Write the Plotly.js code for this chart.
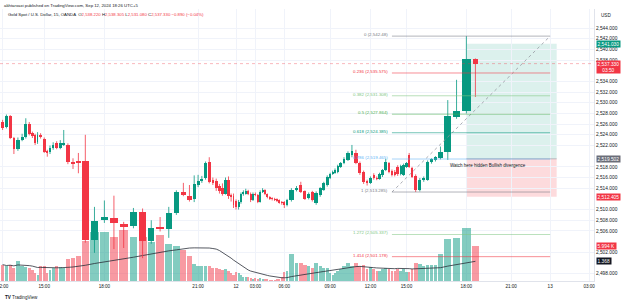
<!DOCTYPE html>
<html><head><meta charset="utf-8">
<script src="https://cdn.plot.ly/plotly-3.0.1.min.js"></script>
<style>html,body{margin:0;padding:0;background:#fff;overflow:hidden}#chart{width:625px;height:303px}</style>
</head><body><div id="chart"></div>
<script>
// ---------- DATA ----------
const times = [
"09-11 12:00","09-11 12:15","09-11 12:30","09-11 12:45","09-11 13:00","09-11 13:15","09-11 13:30","09-11 13:45",
"09-11 14:00","09-11 14:15","09-11 14:30","09-11 14:45","09-11 15:00","09-11 15:15","09-11 15:30","09-11 15:45",
"09-11 16:00","09-11 16:15","09-11 16:30","09-11 16:45","09-11 17:00","09-11 17:15","09-11 17:30","09-11 17:45",
"09-11 18:00","09-11 18:15","09-11 18:30","09-11 18:45","09-11 19:00","09-11 19:15","09-11 19:30","09-11 19:45",
"09-11 20:00","09-11 20:15","09-11 20:30","09-11 20:45","09-11 21:00","09-11 21:15","09-11 21:30","09-11 21:45",
"09-11 22:00","09-11 22:15","09-11 22:30","09-11 22:45","09-11 23:00","09-11 23:15","09-11 23:30","09-11 23:45",
"09-12 00:00","09-12 00:15","09-12 00:30","09-12 00:45","09-12 01:00","09-12 01:15","09-12 01:30","09-12 01:45",
"09-12 03:00","09-12 03:15","09-12 03:30","09-12 03:45","09-12 04:00","09-12 04:15","09-12 04:30","09-12 04:45",
"09-12 05:00","09-12 05:15","09-12 05:30","09-12 05:45","09-12 06:00","09-12 06:15","09-12 06:30","09-12 06:45",
"09-12 07:00","09-12 07:15","09-12 07:30","09-12 07:45","09-12 08:00","09-12 08:15","09-12 08:30","09-12 08:45",
"09-12 09:00","09-12 09:15","09-12 09:30","09-12 09:45","09-12 10:00","09-12 10:15","09-12 10:30","09-12 10:45",
"09-12 11:00","09-12 11:15","09-12 11:30","09-12 11:45","09-12 12:00","09-12 12:15","09-12 12:30","09-12 12:45",
"09-12 13:00","09-12 13:15","09-12 13:30","09-12 13:45","09-12 14:00","09-12 14:15","09-12 14:30","09-12 14:45",
"09-12 15:00","09-12 15:15","09-12 15:30","09-12 15:45","09-12 16:00","09-12 16:15","09-12 16:30","09-12 16:45",
"09-12 17:00","09-12 17:15","09-12 17:30","09-12 17:45","09-12 18:00","09-12 18:15"];
const open = [
2526.4,2525.5,2527.5,2523.4,2521.4,2523.1,2523.6,2526.0,2524.3,2524.0,2522.6,2524.0,2523.2,2521.0,2520.8,2521.5,
2522.5,2521.6,2522.1,2522.1,2518.9,2519.1,2519.1,2504.3,2508.0,2508.4,2507.3,2506.9,2509.5,2504.1,2506.7,2506.3,
2509.4,2513.3,2512.6,2512.0,2514.6,2515.4,2515.9,2518.9,2515.5,2515.3,2514.4,2514.0,2513.0,2515.6,2512.7,2512.5,
2511.6,2510.5,2511.4,2512.9,2513.0,2513.4,2513.0,2511.8,2513.0,2512.7,2511.5,2513.3,2513.6,2512.9,2512.3,2512.1,
2512.0,2511.9,2511.7,2511.4,2511.4,2510.9,2511.7,2513.6,2514.6,2513.4,2512.1,2513.3,2511.3,2512.7,2513.7,2514.6,
2515.9,2516.7,2516.9,2517.0,2518.0,2518.7,2519.3,2520.2,2520.6,2518.7,2517.0,2515.3,2515.0,2516.5,2516.0,2515.8,
2516.4,2517.4,2518.7,2517.2,2517.0,2518.0,2516.6,2516.5,2518.0,2520.2,2517.8,2516.3,2513.6,2515.5,2515.6,2518.9,
2519.3,2519.7,2520.8,2527.3,2528.5,2538.22];
const high = [
2526.8,2527.8,2527.7,2523.6,2523.5,2524.2,2527.1,2526.4,2524.6,2524.2,2524.5,2524.3,2523.5,2521.2,2522.0,2522.6,
2522.8,2523.0,2524.9,2522.4,2519.6,2520.6,2524.0,2510.5,2511.7,2512.6,2507.7,2510.3,2510.2,2508.0,2508.6,2510.5,
2513.6,2515.0,2514.6,2516.4,2516.5,2516.3,2519.0,2519.8,2516.0,2515.8,2514.8,2514.9,2516.0,2516.2,2513.0,2513.0,
2511.9,2511.8,2513.2,2513.6,2513.9,2513.7,2513.2,2513.2,2513.2,2512.9,2513.6,2514.0,2513.8,2513.0,2512.5,2512.3,
2512.2,2512.1,2511.9,2511.6,2511.6,2512.0,2514.0,2514.4,2515.2,2513.6,2513.2,2513.5,2513.4,2514.2,2515.2,2516.4,
2516.9,2517.3,2517.7,2518.4,2518.9,2519.8,2520.9,2522.1,2521.2,2519.0,2517.3,2515.6,2516.2,2516.8,2516.2,2516.9,
2517.6,2519.5,2518.9,2517.5,2517.4,2518.3,2518.4,2518.6,2518.9,2520.6,2518.0,2516.6,2515.9,2516.2,2519.2,2519.6,
2520.0,2521.8,2530.5,2534.3,2542.48,2538.305];
const low = [
2524.9,2525.2,2523.2,2520.4,2521.0,2522.8,2523.3,2523.9,2523.4,2522.1,2522.3,2523.3,2520.6,2519.9,2520.4,2521.2,
2521.3,2521.3,2521.9,2518.5,2517.6,2516.8,2503.8,2501.9,2507.5,2502.6,2502.8,2506.5,2500.9,2503.6,2505.9,2504.7,
2509.0,2512.5,2511.5,2511.4,2514.2,2515.0,2515.6,2514.9,2514.6,2513.5,2513.0,2512.6,2512.8,2512.0,2511.5,2510.3,
2510.0,2510.0,2511.1,2512.6,2512.8,2512.7,2511.4,2511.6,2512.5,2511.2,2511.3,2513.1,2512.7,2512.1,2511.8,2511.7,
2511.6,2511.4,2511.1,2510.9,2510.3,2510.6,2511.5,2513.4,2513.1,2511.8,2511.9,2511.5,2510.9,2512.4,2513.5,2514.3,
2515.7,2516.5,2516.7,2516.8,2517.8,2518.5,2519.1,2519.8,2518.5,2516.5,2514.8,2514.5,2514.8,2515.6,2515.5,2515.6,
2516.1,2517.2,2516.8,2516.2,2516.2,2516.3,2516.4,2516.3,2517.8,2517.8,2515.9,2513.285,2513.4,2515.2,2515.4,2518.6,
2519.0,2519.4,2519.3,2527.0,2528.0,2531.08];
const close = [
2525.3,2527.5,2523.4,2521.3,2523.0,2523.6,2526.0,2524.2,2523.8,2522.5,2524.0,2523.6,2520.8,2520.6,2521.5,2522.1,
2521.5,2522.5,2522.5,2518.9,2518.6,2518.8,2504.3,2507.9,2508.6,2507.5,2506.7,2509.5,2504.1,2506.5,2506.3,2509.3,
2513.3,2512.8,2511.8,2514.8,2515.4,2515.7,2518.7,2515.2,2515.0,2514.0,2513.4,2513.0,2515.6,2512.6,2512.3,2510.9,
2510.5,2511.4,2512.9,2513.2,2513.5,2513.0,2511.7,2513.0,2512.7,2511.4,2513.3,2513.7,2512.9,2512.3,2512.0,2511.9,
2511.8,2511.6,2511.3,2511.2,2510.8,2511.7,2513.6,2514.0,2513.3,2512.0,2512.9,2511.8,2513.1,2514.0,2515.0,2516.1,
2516.7,2517.0,2517.4,2518.2,2518.7,2519.5,2520.6,2520.9,2518.7,2516.8,2515.2,2514.9,2515.9,2515.9,2515.8,2516.6,
2517.4,2518.9,2517.0,2516.5,2516.5,2516.6,2518.1,2518.4,2518.7,2518.0,2516.1,2513.6,2515.5,2515.9,2518.9,2519.4,
2519.8,2520.8,2527.5,2528.5,2538.2,2537.33];
const volume = [ // thousands
2.8,2.5,2.8,2.25,3.4,2.65,2.4,2.25,1.85,1.4,1.1,2.5,2.5,1.4,1.85,2.25,
2.5,2.4,2.25,3.7,4.0,4.2,6.9,8.3,8.3,7.6,8.7,7.6,7.6,6.7,7.9,6.4,
5.9,5.3,4.2,2.85,2.6,2.6,2.5,2.6,2.3,2.2,2.0,1.8,2.1,1.7,1.3,1.0,
1.6,1.3,1.0,0.75,0.75,0.6,0.5,0.4,0.5,0.4,0.5,0.3,0.3,0.3,0.2,0.2,
0.2,0.3,0.4,0.6,1.6,1.7,4.6,3.1,3.1,2.7,2.6,2.3,3.1,2.6,2.3,2.3,
1.4,1.1,1.4,1.7,2.0,2.5,3.1,2.5,3.1,2.5,2.7,2.0,2.4,2.0,1.7,1.7,
2.0,2.3,2.0,1.7,1.7,2.0,1.7,2.0,1.6,1.6,2.0,3.0,2.9,2.6,2.8,2.7,
2.8,4.7,7.1,7.4,9.0,5.994];

const tickTimes  = ["09-11 12:00","09-11 15:00","09-11 18:00","09-11 21:00","09-12 00:00","09-12 03:00","09-12 06:00",
                    "09-12 09:00","09-12 12:00","09-12 15:00","09-12 18:00","09-12 21:00","09-13 00:00","09-13 03:00"];
const tickLabels = ["12:00","15:00","18:00","21:00","12","03:00","06:00","09:00","12:00","15:00","18:00","21:00","13","03:00"];
// price ticks whose labels are not hidden by the axis price tags
const priceTicks = [2498,2502,2506,2508,2510,2514,2516,2518,2522,2524,2526,2528,2530,2532,2534,2538,2540,2542,2544];

const fibRatios = [0, 0.236, 0.382, 0.5, 0.618, 0.786, 1, 1.272, 1.414];
const fibPrices = [2542.48, 2535.575, 2531.308, 2527.864, 2524.385, 2519.465, 2513.285, 2505.337, 2501.178];
const fibLabels = ["0 (2,542.48)","0.236 (2,535.575)","0.382 (2,531.308)","0.5 (2,527.864)","0.618 (2,524.385)",
                   "0.786 (2,519.465)","1 (2,513.285)","1.272 (2,505.337)","1.414 (2,501.178)"];
const fibStartTime = "09-12 13:45", fibEndTime = "09-13 00:00";
const longStartTime = "09-12 18:00", longEndTime = "09-13 00:30";
const longTarget = 2541.030, longEntry = 2519.502, longStop = 2512.405;
const noteTime = "09-12 17:30", notePrice = 2518.2, noteText = "Watch here hidden Bullish divergence";
const lastPrice = 2537.330, lastVolume = 5.994, maLabel = "1.368";

// ---------- STYLE ----------
const UP = '#089981', DN = '#f23645';
const FONT = 'Liberation Sans, Arial, sans-serif';
const fibColors = ['#787b86','#f23645','#81c784','#4caf50','#089981','#64b5f6','#787b86','#81c784','#f23645'];
const futureStep = 3.25, plotW = 594;

// ---------- geometry from data (volume candles: width grows with volume) ----------
const slots = volume.map(v => Math.max(2.4, 0.95 + 1.08*v));
const centers = []; let acc = 0;
slots.forEach(w => { centers.push(acc + w/2); acc += w; });
function minutesOf(t){ const [d,hm]=t.split(' '); const day=+d.split('-')[1]; const [h,m]=hm.split(':').map(Number); return day*1440+h*60+m; }
function xOf(t){
  const i = times.indexOf(t); if (i >= 0) return centers[i];
  const L = times.length-1; return centers[L] + (minutesOf(t)-minutesOf(times[L]))/15*futureStep;
}
const x0 = centers[0] - 2.6, x1 = x0 + plotW;
const isUp = close.map((c,i)=> c >= open[i]);

const maLen = 20;
const volMA = volume.map((v,i)=>{ const w = volume.slice(Math.max(0,i-maLen+1), i+1); return w.reduce((a,b)=>a+b,0)/w.length; });

function wick(up){ const xs=[], ys=[]; centers.forEach((c,i)=>{ if(isUp[i]===up){ xs.push(c,c,null); ys.push(low[i],high[i],null);} }); return {xs,ys}; }
const wu = wick(true), wd = wick(false);

const traces = [
  {type:'bar', x:centers, y:volume, width:slots.map(w=>w*0.86), yaxis:'y', xaxis:'x',
   marker:{color:isUp.map(u=>u?'rgba(8,153,129,0.5)':'rgba(242,54,69,0.5)'), line:{width:0}}, hoverinfo:'skip'},
  {type:'scatter', mode:'lines', x:centers, y:volMA, yaxis:'y', line:{color:'#2a2e39', width:0.8}, hoverinfo:'skip'},
  {type:'scatter', mode:'lines', x:wu.xs, y:wu.ys, yaxis:'y2', line:{color:UP, width:0.8}, hoverinfo:'skip', connectgaps:false},
  {type:'scatter', mode:'lines', x:wd.xs, y:wd.ys, yaxis:'y2', line:{color:DN, width:0.8}, hoverinfo:'skip', connectgaps:false},
  {type:'bar', x:centers, base:open.map((o,i)=>Math.min(o,close[i])), y:open.map((o,i)=>Math.max(Math.abs(close[i]-o),0.18)),
   width:slots.map(w=>w*0.78), yaxis:'y2', marker:{color:isUp.map(u=>u?UP:DN), line:{width:0}}, hoverinfo:'skip'}
];

const fx0 = xOf(fibStartTime), fx1 = xOf(fibEndTime);
const lx0 = xOf(longStartTime), lx1 = xOf(longEndTime);
const shapes = [
  {type:'rect', layer:'below', xref:'x', yref:'y2', x0:lx0, x1:lx1, y0:longEntry, y1:longTarget, fillcolor:'rgba(8,153,129,0.14)', line:{width:0}},
  {type:'rect', layer:'below', xref:'x', yref:'y2', x0:lx0, x1:lx1, y0:longStop, y1:longEntry, fillcolor:'rgba(242,54,69,0.18)', line:{width:0}},
  {type:'line', xref:'paper', yref:'y2', x0:0, x1:1, y0:lastPrice, y1:lastPrice, line:{color:'rgba(242,54,69,0.5)', width:0.7, dash:'dot'}},
  {type:'line', xref:'x', yref:'y2', x0:fx0, x1:fx1, y0:fibPrices[6], y1:fibPrices[0], line:{color:'#9598a1', width:0.8, dash:'dot'}},
  {type:'line', xref:'x', yref:'y2', x0:lx0, x1:lx1, y0:longEntry, y1:longEntry, line:{color:'#9598a1', width:0.6}}
];
fibPrices.forEach((p,k)=> shapes.push({type:'line', xref:'x', yref:'y2', x0:fx0, x1:fx1, y0:p, y1:p, line:{color:fibColors[k], width:0.7}, opacity:0.8}));

const ann = [];
fibLabels.forEach((t,k)=> ann.push({xref:'x', yref:'y2', x:fx0-2, y:fibPrices[k], xanchor:'right', yanchor:'middle', yshift:1.5,
  text:t, showarrow:false, font:{size:4.4, color:fibColors[k], family:FONT}}));
ann.push({xref:'x', yref:'y2', x:xOf(noteTime), y:notePrice, xanchor:'left', yanchor:'middle', text:noteText, showarrow:false,
  font:{size:4.5, color:'#131722', family:FONT}});
function axLabel(y, text, bg, yref, extra){ return Object.assign({xref:'paper', x:1, xanchor:'left', xshift:1.5, yref:yref||'y2', y:y, yanchor:'middle',
  text:text, showarrow:false, bgcolor:bg, borderpad:0.6, font:{size:4.8, color:'#ffffff', family:FONT}}, extra||{}); }
ann.push(axLabel(longTarget, '2,541.030', UP));
ann.push(axLabel(lastPrice, '2,537.330<br>03:50', DN, 'y2', {yanchor:'top', yshift:3.6}));
ann.push(axLabel(longEntry, '2,519.502', '#6a6d78'));
ann.push(axLabel(longStop, '2,512.405', DN));
ann.push(axLabel(lastVolume, '5.994 K', DN, 'y'));
ann.push(axLabel(volMA[volMA.length-1], maLabel, '#131722', 'y'));
ann.push({xref:'paper', yref:'paper', x:1, xshift:5, xanchor:'left', y:(281-15)/272, yanchor:'middle', text:'USD', showarrow:false,
  font:{size:4.6, color:'#131722', family:FONT}});
ann.push({xref:'paper', yref:'paper', x:0, xshift:2, xanchor:'left', y:(281-5)/272, yanchor:'middle',
  text:'akhtarxaxi published on TradingView.com, Sep 12, 2024 18:26 UTC+5', showarrow:false, font:{size:4.3, color:'#131722', family:FONT}});
ann.push({xref:'paper', yref:'paper', x:0, xshift:6, xanchor:'left', y:(281-14)/272, yanchor:'middle', showarrow:false,
  text:'Gold Spot / U.S. Dollar, 15, OANDA  O<span style="color:#f23645">2,538.220</span> H<span style="color:#f23645">2,538.305</span> L<span style="color:#f23645">2,531.080</span> C<span style="color:#f23645">2,537.330</span> <span style="color:#f23645">−0.890 (−0.04%)</span>',
  font:{size:4.3, color:'#131722', family:FONT}});
ann.push({xref:'paper', yref:'paper', x:0, xshift:3, xanchor:'left', y:(281-297)/272, yanchor:'middle', showarrow:false,
  text:'<b>TV</b> TradingView', font:{size:4.6, color:'#131722', family:FONT}});

const layout = {
  width:625, height:303, margin:{l:0, r:31, t:9, b:22}, paper_bgcolor:'#ffffff', plot_bgcolor:'#ffffff',
  showlegend:false, barmode:'overlay', bargap:0, font:{family:FONT, size:5, color:'#131722'},
  xaxis:{range:[x0,x1], tickmode:'array', tickvals:tickTimes.map(xOf), ticktext:tickLabels, showgrid:true, gridcolor:'#f0f3fa',
         zeroline:false, showline:true, linecolor:'#e0e3eb', linewidth:1, ticks:'', ticklabeloverflow:'allow',
         tickfont:{size:4.6, color:'#131722'}, fixedrange:true},
  yaxis:{range:[0, 272/5.85], visible:false, fixedrange:true},
  yaxis2:{overlaying:'y', side:'right', anchor:'x', range:[2544-253/5.34, 2544+19/5.34], tickmode:'array', tickvals:priceTicks,
          tickformat:',.3f', showgrid:true, gridcolor:'#f0f3fa', zeroline:false, showline:true, linecolor:'#e0e3eb', linewidth:1,
          ticks:'', tickfont:{size:4.8, color:'#131722'}, fixedrange:true},
  shapes:shapes, annotations:ann
};
Plotly.newPlot('chart', traces, layout, {displayModeBar:false, staticPlot:true});
</script></body></html>
